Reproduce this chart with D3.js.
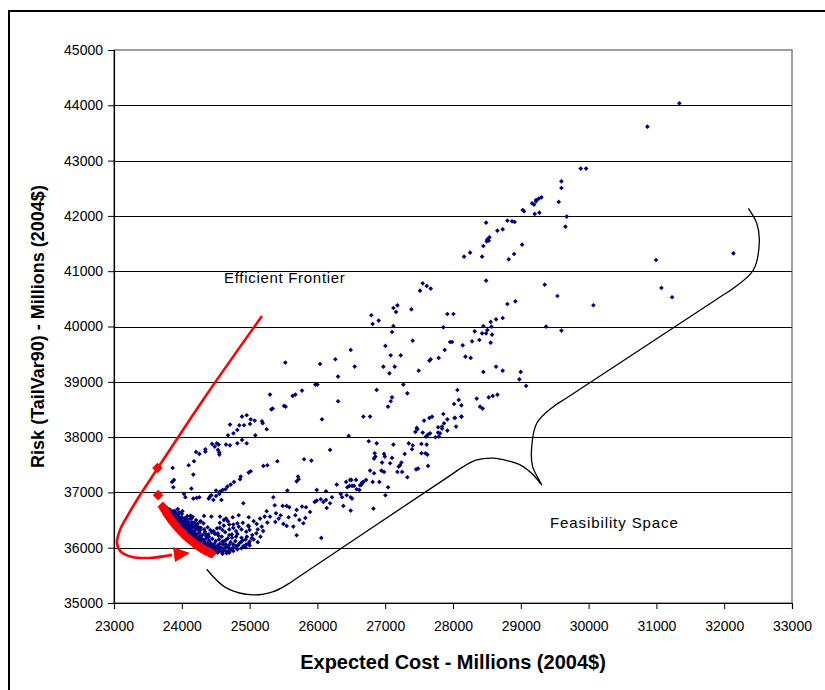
<!DOCTYPE html>
<html>
<head>
<meta charset="utf-8">
<script src="https://cdn.jsdelivr.net/npm/d3@7"></script>
<style>
  html, body { margin: 0; padding: 0; background: #fff; }
  svg { display: block; font-family: "Liberation Sans", Arial, sans-serif; }
</style>
</head>
<body>
<svg id="chart" width="825" height="690"></svg>
<script>
// ---- Axis ticks ----
const costTicks = [23000, 24000, 25000, 26000, 27000, 28000, 29000, 30000, 31000, 32000, 33000];
const riskTicks = [35000, 36000, 37000, 38000, 39000, 40000, 41000, 42000, 43000, 44000, 45000];

// ---- Feasible portfolios: expected cost / TailVar90 risk (millions, 2004$) ----
const feasibleCost = [
  25508,25532,25321,25340,24957,24888,25016,25075,25183,25193,25006,24711,24849,24918,25252,24819,24761,25085,24682,
  24446,24515,24544,24485,24347,24347,24534,24554,24652,24711,24819,24957,24888,24210,24259,24554,24180,24101,23865,
  25409,25203,25262,25016,24987,24868,24859,24770,24672,24643,24603,24564,24505,24721,23885,23856,23875,24141,24170,
  25803,25911,25714,25724,25694,25557,25990,26127,26068,
  24033,24052,24170,24220,24259,24397,24416,24436,24505,24554,24466,24584,24908,25350,25547,25488,25586,25694,25773,
  25832,25960,25990,26049,26088,25370,25891,25675,25576,25458,25734,25793,25645,25694,26058,25822,25252,25389,25301,
  25429,25222,25498,25262,25380,25547,25154,25104,24987,24987,24839,24751,24652,24564,24436,24328,24279,24141,24161,
  24220,24052,
  23760,23790,23830,23800,23870,23850,23900,23940,23880,23960,24000,
  23850,23900,23930,23960,24000,24040,24080,23990,24060,24120,24160,24210,
  23950,24000,24030,24070,24100,24140,24180,24230,24270,24320,24040,24110,
  24020,24060,24090,24130,24160,24200,24240,24280,24330,24380,24420,24100,24180,
  24110,24150,24190,24220,24260,24300,24340,24390,24440,24490,24540,24200,24270,24360,
  24200,24240,24280,24320,24360,24400,24450,24500,24550,24600,24650,24260,24340,24420,24480,
  24290,24330,24370,24410,24450,24490,24530,24570,24610,24650,24700,24750,24800,24380,24460,24540,
  24480,24520,24560,24600,24640,24680,24720,24760,24600,24660,24700,24820,24880,24940,25000,
  24850,24900,24950,25000,25060,25120,24880,24960,25040,25100,25160,25200,24820,24740,24700,
  24560,24620,24680,24760,24840,24900,24980,25060,24520,24600,24700,24800,24880,24950,
  23780,23820,23810,23850,23860,23890,23900,23930,23950,23980,23990,24020,24030,24060,24080,24110,24120,24150,
  24170,24200,24220,24250,24270,24300,24310,24340,24360,24390,24410,24440,24470,24500,24530,24560,24580,24620,
  24650,24690,24720,24760,24790,24830,24870,24910,24940,24990,25030,24180,24260,24330,24380,24450,24520,24560,
  24620,24680,24740,24800,24270,24340,24400,24470,24530,24590,24640,24150,24200,24250,24080,24130,23960,23900,
  23940,24010,24560,24620,24700,24760,24820,25120,25180,25000,
  26796,26815,26904,25527,26039,26265,26491,26550,26304,25970,26000,25773,25675,25635,25301,26874,
  26305,26678,26777,26462,26187,26757,26875,27121,27347,27406,27396,27534,27612,27534,27593,27622,27288,26845,26855,
  26836,26983,26993,27101,26954,27072,27239,27219,27200,27632,27485,27455,26777,26836,26944,26983,27180,27249,27327,
  26423,26482,26501,26570,26718,26816,26914,26659,26678,26649,26629,26472,26511,26541,26442,26580,26619,27042,26285,
  26344,26364,26432,26491,26511,26216,26127,26137,26187,27003,26383,26826,26491,
  27445,27475,27465,27553,27602,27632,27662,27740,27790,27780,27809,27780,27839,27839,27868,27917,28045,28124,28025,27573,
  28488,28802,28871,28910,28655,28733,28537,28507,28527,28497,28448,29019,28252,28163,28429,28901,28822,28488,27553,
  27612,27671,27514,29353,29540,27180,27121,27160,27386,27917,28006,28802,28920,28733,28635,28556,27121,27858,28448,
  28566,28507,29373,28320,27101,28429,28488,28576,28389,28281,28556,27957,27986,27406,27003,28143,27878,27081,27229,
  28183,28261,27789,27671,27652,26973,27140,28635,28733,28448,28999,27494,27062,28979,29078,27268,27327,28065,28084,
  28016,28124,28350,28399,28438,28527,28586,28655,27101,27081,27042,27858,27652,27691,27917,28025,28124,
  31339,30867,29884,29963,29599,29599,29166,29196,29225,29225,29264,29304,29559,29205,29274,29028,29048,29677,29658,
  32136,30995,31074,30071,31231,29599
];
const feasibleRisk = [
  38564,38551,38503,38515,38395,38371,38322,38298,38286,38250,38238,38226,38214,38214,38142,38130,38069,38033,38033,
  37876,37888,37864,37828,37780,37738,37768,37720,37864,37852,37888,37888,37949,37732,37696,37684,37563,37491,37443,
  37563,37479,37491,37382,37358,37286,37238,37189,37105,37057,37045,37015,37033,37141,37225,37189,37093,37069,37322,
  37599,37575,37286,37238,37201,37033,37045,37021,38322,
  36972,36912,36888,36900,36912,36888,36924,36948,36936,36972,36864,36864,36804,36912,36756,36756,36731,36683,36744,
  36731,36828,36852,36876,36828,36768,36647,36587,36551,36587,36502,36442,36382,36225,36177,36539,36659,36623,36563,
  36527,36563,36430,36454,36466,36394,36527,36430,36551,36382,36587,36551,36527,36563,36563,36575,36478,36527,36382,
  36358,36527,
  36700,36680,36650,36640,36660,36610,36630,36600,36580,36640,36610,
  36560,36540,36560,36520,36550,36530,36570,36500,36490,36520,36560,36500,
  36460,36440,36470,36430,36460,36420,36450,36430,36470,36440,36410,36400,
  36380,36350,36370,36340,36380,36350,36320,36360,36330,36370,36320,36310,36300,
  36270,36250,36280,36240,36270,36230,36260,36240,36280,36250,36220,36210,36200,36210,
  36170,36150,36180,36140,36170,36130,36160,36120,36150,36110,36140,36110,36100,36090,36070,
  36060,36040,36070,36030,36050,36010,36040,36000,36060,36020,36050,36000,36030,36000,35990,35970,
  35950,35930,35960,35920,35950,35930,35960,35940,35890,35900,35910,35970,35990,36010,36040,
  36080,36130,36060,36110,36150,36100,36180,36200,36230,36260,36200,36300,36250,36180,36230,
  36450,36400,36480,36420,36380,36450,36400,36480,36350,36320,36330,36300,36330,36290,
  36720,36690,36620,36640,36580,36600,36500,36520,36470,36490,36420,36450,36360,36400,36330,36350,36270,36300,
  36220,36250,36160,36190,36110,36140,36060,36090,36020,36050,35970,36000,35940,35980,35910,35940,36000,35980,
  36060,36000,36100,36060,36120,36040,36100,36030,36150,36080,36170,36190,36140,36030,36080,36030,36010,36070,
  36110,36170,36240,36200,36320,36290,36200,36300,36260,36200,36280,36460,36400,36370,36520,36580,36560,36660,
  36700,36660,36360,36500,36420,36360,36440,36330,36380,36320,
  40203,40046,40107,39347,39323,39408,39576,39275,39094,38950,38950,38841,38769,38745,38769,38853,
  38648,38371,38371,38021,37768,37925,37888,37864,37888,37852,37780,37876,37864,37708,37708,37684,37696,37708,37648,
  37611,37696,37648,37623,37539,37527,37539,37491,37467,37479,37431,37418,37394,37346,37394,37370,37370,37370,37274,
  37189,37225,37225,37225,37225,37189,37189,37177,37189,37141,37129,37117,37117,37117,37093,37057,37045,37093,37141,
  36972,36912,36948,36912,36888,36912,36864,36719,36804,36948,36755,36707,36671,
  38093,38142,38166,38081,38009,38045,38069,37997,38009,38081,38069,38178,38190,38154,38250,38118,38190,38371,38347,38298,
  41878,41914,41902,41890,41733,41757,41613,41576,41552,41540,41456,41480,41335,41263,41263,41311,41215,40829,40781,
  40733,40685,40648,40757,40552,40383,40335,40263,40311,40226,40226,40407,40455,40154,40130,40082,40009,39985,40009,
  39997,39937,39997,39913,39901,39877,39877,39853,39756,39732,39708,39720,39720,39744,39648,39660,39576,39479,39479,
  39455,39431,39431,39407,39383,39274,39274,39274,39202,39178,39178,39202,39154,39045,38925,38949,38792,38852,38672,
  38599,38575,38696,38551,38515,38720,38744,38768,38720,38648,38551,38418,38346,38370,38322,38346,38370,
  44036,43614,42855,42855,42626,42505,42228,42204,42288,42264,42312,42336,42252,42035,42059,42107,42083,41987,41806,
  41324,41203,40697,40384,40529,39926
];

// ---- Efficient frontier portfolios ----
const frontierCost = [
  23640,23650,
  23720,23740,23760,23780,23800,23820,23840,23860,23880,23900,23920,23940,23960,23980,24000,24020,24040,24060,
  24080,24100,24120,24140,24160,24180,24200,24220,24240,24260,24280,24300,24320,24340,24360,24380,24400,24420,24440
];
const frontierRisk = [
  37440,36950,
  36740,36700,36660,36620,36580,36545,36510,36475,36445,36415,36385,36355,36330,36305,36280,36255,36230,36205,
  36185,36165,36145,36125,36105,36085,36065,36050,36030,36015,36000,35985,35970,35955,35945,35930,35920,35910,35900
];

// ---- Annotation paths (data units) ----
const frontierPointerCost = [25183, 24313, 23531, 23384, 23207, 23089, 23044, 23103, 23266, 23531, 23856];
const frontierPointerRisk = [40191, 38672, 37225, 36954, 36592, 36322, 36086, 35924, 35833, 35815, 35870];
const arrowHeadCost = [24121, 23870, 23900];
const arrowHeadRisk = [35906, 36014, 35743];

const braceCost = [24367, 24662, 25055, 25350, 25547, 25755, 27944, 28152, 28350, 28595, 28792, 28989, 29185, 29309,
                   29174, 29161, 29235, 29480, 29692, 31923, 32135, 32430, 32518, 32480, 32356];
const braceRisk = [35611, 35268, 35146, 35206, 35327, 35498, 37295, 37466, 37587, 37618, 37575, 37497, 37316, 37135,
                   37466, 37828, 38251, 38551, 38722, 40521, 40692, 41022, 41534, 41867, 42138];

// ---- Layout ----
const W = 825, H = 690;
const plot = { left: 114, right: 792, top: 50, bottom: 603 };

const svg = d3.select("#chart");
svg.append("rect").attr("width", W).attr("height", H).attr("fill", "#fff");

// outer chart frame
svg.append("rect")
  .attr("x", 9).attr("y", 11).attr("width", 840).attr("height", 720)
  .attr("fill", "none").attr("stroke", "#000").attr("stroke-width", 2);

const x = d3.scaleLinear().domain([23000, 33000]).range([plot.left, plot.right]);
const y = d3.scaleLinear().domain([35000, 45000]).range([plot.bottom, plot.top]);

// plot area border
svg.append("rect")
  .attr("x", plot.left).attr("y", plot.top)
  .attr("width", plot.right - plot.left).attr("height", plot.bottom - plot.top)
  .attr("fill", "none").attr("stroke", "#808080").attr("stroke-width", 1.5);

// horizontal gridlines
svg.append("g").selectAll("line")
  .data(riskTicks.filter(d => d > 35000 && d < 45000))
  .join("line")
  .attr("x1", plot.left).attr("x2", plot.right)
  .attr("y1", d => Math.round(y(d)) + 0.5).attr("y2", d => Math.round(y(d)) + 0.5)
  .attr("stroke", "#000").attr("stroke-width", 1);

// axes
const xAxis = d3.axisBottom(x).tickValues(costTicks).tickFormat(d3.format("d")).tickSize(6).tickPadding(12);
const yAxis = d3.axisLeft(y).tickValues(riskTicks).tickFormat(d3.format("d")).tickSize(6).tickPadding(5);

const gx = svg.append("g").attr("transform", `translate(0,${plot.bottom})`).call(xAxis);
const gy = svg.append("g").attr("transform", `translate(${plot.left},0)`).call(yAxis);
[gx, gy].forEach(g => {
  g.select(".domain").attr("stroke", "#000").attr("stroke-width", 1.2);
  g.selectAll(".tick line").attr("stroke", "#000");
  g.selectAll(".tick text")
    .attr("fill", "#000")
    .style("font-family", '"Liberation Sans", Arial, sans-serif')
    .style("font-size", "14px");
});

// annotation: feasibility brace
const line = d3.line().x(d => x(d[0])).y(d => y(d[1])).curve(d3.curveCatmullRom.alpha(0.5));
svg.append("path")
  .attr("d", line(braceCost.map((c, i) => [c, braceRisk[i]])))
  .attr("fill", "none").attr("stroke", "#000").attr("stroke-width", 1.3);

// annotation: pointer to the efficient frontier
svg.append("path")
  .attr("d", line(frontierPointerCost.map((c, i) => [c, frontierPointerRisk[i]])))
  .attr("fill", "none").attr("stroke", "#ff0000").attr("stroke-width", 2.6);
svg.append("path")
  .attr("d", d3.line()(arrowHeadCost.map((c, i) => [x(c), y(arrowHeadRisk[i])])) + "Z")
  .attr("fill", "#ff0000");

// feasible portfolios (navy diamonds)
const smallDiamond = d3.symbol().type(d3.symbolSquare).size(11);
svg.append("g").selectAll("path")
  .data(feasibleCost.map((c, i) => [c, feasibleRisk[i]]))
  .join("path")
  .attr("d", smallDiamond)
  .attr("transform", d => `translate(${x(d[0])},${y(d[1])}) rotate(45)`)
  .attr("fill", "#000080");

// efficient frontier (red diamonds)
const bigDiamond = d3.symbol().type(d3.symbolSquare).size(56);
svg.append("g").selectAll("path")
  .data(frontierCost.map((c, i) => [c, frontierRisk[i]]))
  .join("path")
  .attr("d", bigDiamond)
  .attr("transform", d => `translate(${x(d[0])},${y(d[1])}) rotate(45)`)
  .attr("fill", "#ff0000");

// annotation labels
svg.append("text").attr("x", 224).attr("y", 283)
  .style("font-size", "15px").style("letter-spacing", "0.7px")
  .text("Efficient Frontier");
svg.append("text").attr("x", 550).attr("y", 528)
  .style("font-size", "15px").style("letter-spacing", "0.9px")
  .text("Feasibility Space");

// axis titles
svg.append("text")
  .attr("x", 453).attr("y", 669)
  .attr("text-anchor", "middle")
  .style("font-size", "20px").style("font-weight", "bold")
  .text("Expected Cost - Millions (2004$)");
svg.append("text")
  .attr("transform", `translate(44,${(plot.top + plot.bottom) / 2}) rotate(-90)`)
  .attr("text-anchor", "middle")
  .style("font-size", "18px").style("font-weight", "bold")
  .text("Risk (TailVar90) - Millions (2004$)");
</script>
</body>
</html>
